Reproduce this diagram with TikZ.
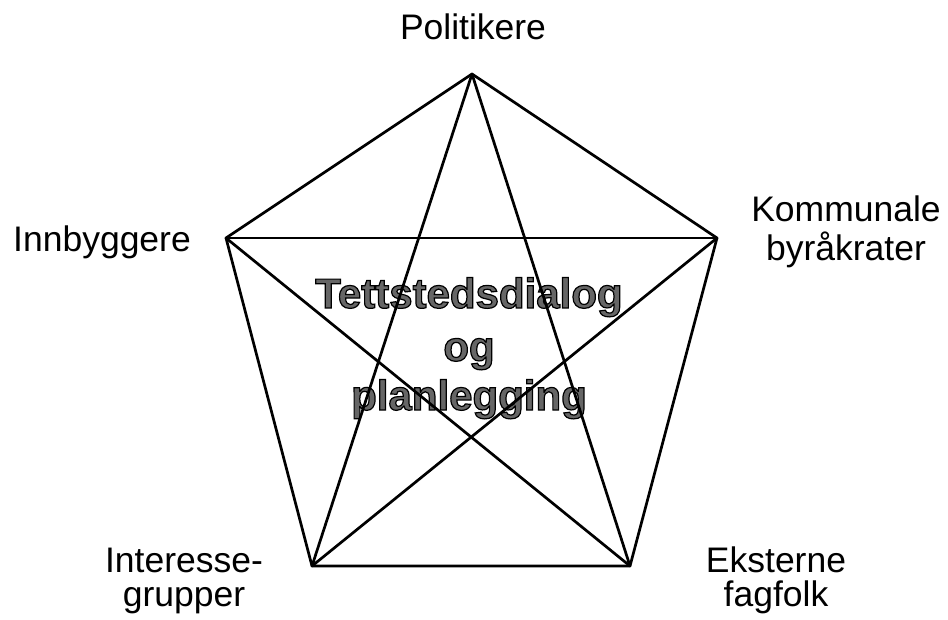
\documentclass[tikz,border=0pt]{standalone}
\usepackage{fontspec}
\setmainfont{Liberation Sans}
\begin{document}
\begin{tikzpicture}[x=1pt,y=-1pt,
  lbl/.style={font=\fontsize{35.5}{38}\selectfont, anchor=base, inner sep=0pt},
  ctr/.style={font=\fontsize{42}{46}\selectfont\bfseries, anchor=base, inner sep=0pt, text=black!60},
  edge/.style={line width=2.7pt, line join=round, line cap=round}]
\useasboundingbox (0,0) rectangle (948,620);
% center text
\node[ctr] (t1) at (469,308) {\special{pdf:literal direct 2 Tr 1.2 w 0 0 0 RG}Tettstedsdialog\special{pdf:literal direct 0 Tr}};
\node[ctr] (t2) at (469,361) {\special{pdf:literal direct 2 Tr 1.2 w 0 0 0 RG}og\special{pdf:literal direct 0 Tr}};
\node[ctr] (t3) at (469,410) {\special{pdf:literal direct 2 Tr 1.2 w 0 0 0 RG}planlegging\special{pdf:literal direct 0 Tr}};
% vertices
\coordinate (P) at (472,74);
\coordinate (K) at (717,238);
\coordinate (E) at (630,566);
\coordinate (I) at (312,566);
\coordinate (B) at (226,238);
% pentagon
\draw[edge] (P) -- (K) -- (E) -- (I) -- (B) -- cycle;
% star
\draw[edge] (P) -- (E);
\draw[edge] (P) -- (I);
\draw[edge] (K) -- (B);
\draw[edge] (K) -- (I);
\draw[edge] (B) -- (E);
% labels
\node[lbl] (lp) at (473,40) {Politikere};
\node[lbl] (lb) at (102,252) {Innbyggere};
\node[lbl] (lk1) at (846,222) {Kommunale};
\node[lbl] (lk2) at (846,261) {byråkrater};
\node[lbl] (li1) at (184,572) {Interesse-};
\node[lbl] (li2) at (184,606) {grupper};
\node[lbl] (le1) at (776,572) {Eksterne};
\node[lbl] (le2) at (776,606) {fagfolk};
\end{tikzpicture}
\end{document}
